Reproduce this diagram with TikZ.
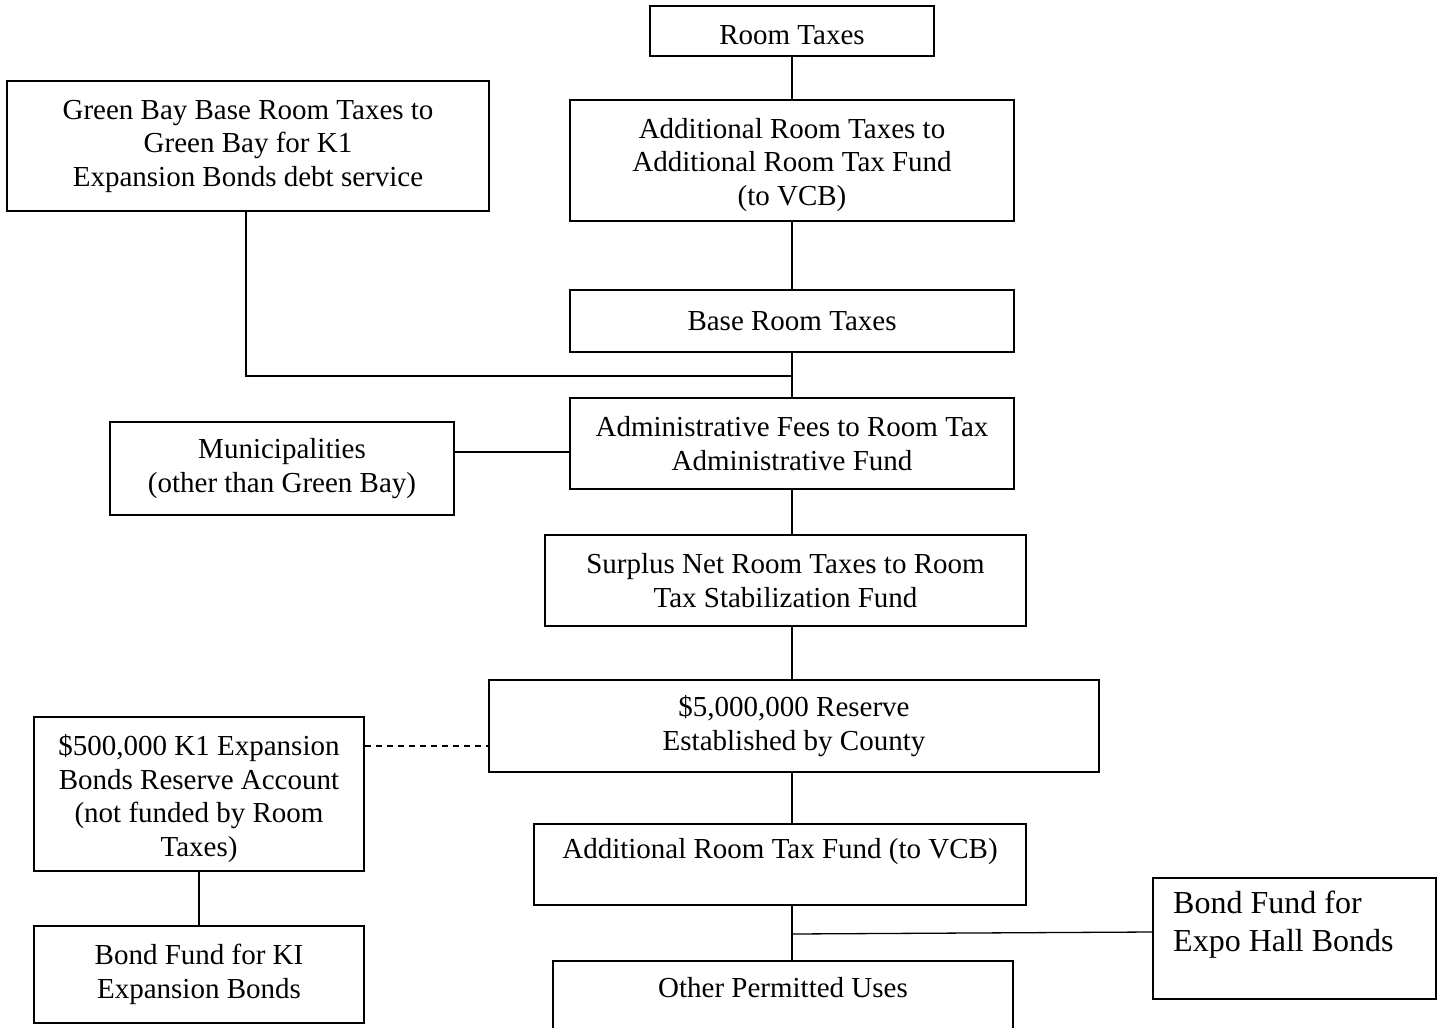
\documentclass[tikz,border=0pt]{standalone}
\usepackage{fontspec}
\setmainfont{Liberation Serif}
\newcommand{\upstrut}[1]{\rule{0pt}{#1}}
\begin{document}
\begin{tikzpicture}[x=1pt,y=-1pt,
  box/.style={draw,line width=1.3pt,rectangle,inner sep=0pt,align=center,
    font=\fontsize{29}{33.5}\selectfont},
  thickbox/.style={box,line width=2.4pt},
  txt/.style={inner sep=0pt,align=center,font=\fontsize{29}{33.5}\selectfont},
  conn/.style={line width=1.6pt},
  dconn/.style={line width=1.4pt,dash pattern=on 6pt off 5pt}]
\useasboundingbox (0,0) rectangle (1441,1028);
\clip (0,0) rectangle (1441,1028);
\fill[white] (0,0) rectangle (1441,1028);

\node[box,minimum width=284,minimum height=50] (rt) at (792,31) {\upstrut{27.5pt}Room Taxes};
\node[box,minimum width=482,minimum height=130] (gb) at (248,146)
  {Green Bay Base Room Taxes to\\Green Bay for K1\\Expansion Bonds debt service};
\node[box,minimum width=444,minimum height=121] (art) at (792,160.5)
  {\upstrut{29pt}Additional Room Taxes to\\Additional Room Tax Fund\\(to VCB)};
\node[box,minimum width=444,minimum height=62] (brt) at (792,321) {Base Room Taxes};
\node[box,minimum width=444,minimum height=91] (adm) at (792,443.5)
  {Administrative Fees to Room Tax\\Administrative Fund};
\node[box,minimum width=344,minimum height=93] (mun) at (282,468.5)
  {Municipalities\\(other than Green Bay)};
\node[thickbox,minimum width=481,minimum height=91] (sur) at (785.5,580.5)
  {Surplus Net Room Taxes to Room\\Tax Stabilization Fund};
\node[box,minimum width=610,minimum height=92] (res) at (794,726)
  {\$5,000,000 Reserve\\Established by County};
\node[box,minimum width=330,minimum height=154] (k1r) at (199,794)
  {\upstrut{30pt}\$500,000 K1 Expansion\\Bonds Reserve Account\\(not funded by Room\\Taxes)};
\node[box,minimum width=330,minimum height=97] (bki) at (199,974.5)
  {Bond Fund for KI\\Expansion Bonds};
\node[box,minimum width=492,minimum height=81] (artf) at (780,864.5) {};
\node[txt] (artft) at (780,852) {Additional Room Tax Fund (to VCB)};
\node[box,minimum width=283,minimum height=121] (expo) at (1294.5,938.5) {};
\node[txt,align=left,anchor=west,font=\fontsize{32}{38}\selectfont] (expot) at (1173,925)
  {Bond Fund for\\Expo Hall Bonds};
\node[box,minimum width=460,minimum height=90] (opu) at (783,1006) {};
\node[txt] (oput) at (783,988) {Other Permitted Uses};

\coordinate (j1) at (792,376);
\coordinate (j2) at (792,934);

\draw[conn] (rt.south) -- (art.north);
\draw[conn] (art.south) -- (brt.north);
\draw[conn] (brt.south) -- (adm.north);
\draw[conn] ([xshift=-2pt]gb.south) |- (j1);
\draw[conn] ([yshift=16.5pt]mun.east) -- ([yshift=16.5pt]mun.east -| adm.west);
\draw[conn] (adm.south) -- (adm.south |- sur.north);
\draw[conn] (adm.south |- sur.south) -- (adm.south |- res.north);
\draw[conn] (adm.south |- res.south) -- (adm.south |- artf.north);
\draw[conn] (adm.south |- artf.south) -- (adm.south |- opu.north);
\draw[line width=1.3pt] (j2) -- ([yshift=6.5pt]expo.west);
\draw[dconn] ([yshift=48pt]k1r.east) -- ([yshift=48pt]k1r.east -| res.west);
\draw[conn] (k1r.south) -- (bki.north);
\end{tikzpicture}
\end{document}
